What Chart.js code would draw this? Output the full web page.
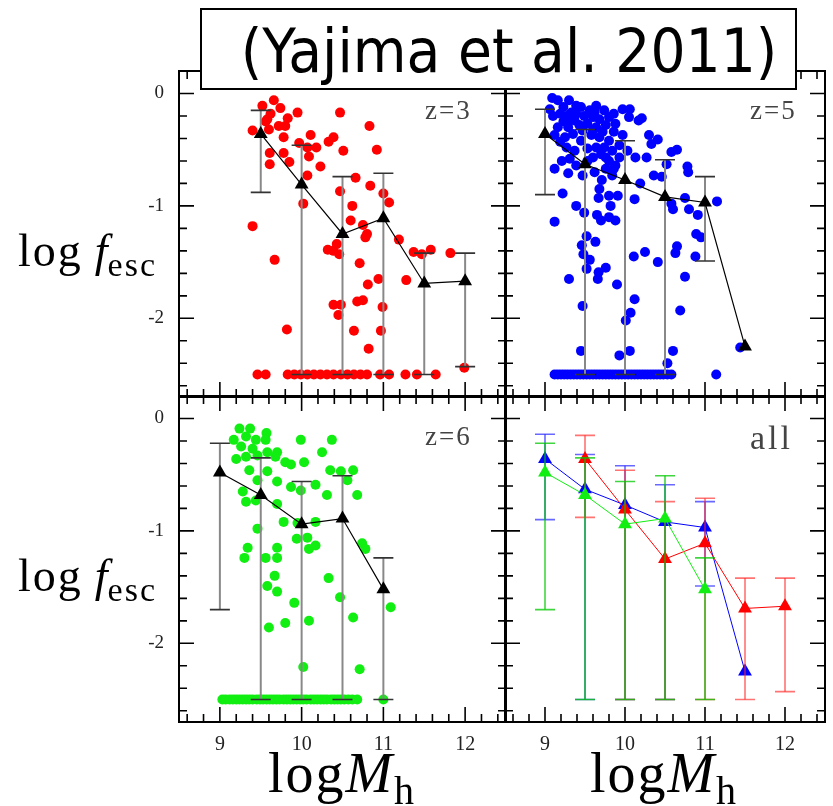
<!DOCTYPE html>
<html>
<head>
<meta charset="utf-8">
<script src="https://cdn.jsdelivr.net/npm/chart.js@4.4.1/dist/chart.umd.min.js"></script>
<style>
  body { margin: 0; background: #fff; }
  #wrap { position: relative; width: 833px; height: 806px; overflow: hidden; background: #fff; }
  #wrap canvas { position: absolute; left: 0; top: 0; }
  .txt { position: absolute; white-space: nowrap; line-height: 1; font-family: "Liberation Serif", serif; color: #000; }
  .plab { color: #444; font-size: 27px; letter-spacing: 2px; }
  .ylab { font-size: 46px; letter-spacing: 2px; }
  .ylab i { margin-left: 12px; letter-spacing: 0; }
  .ylab sub { font-size: 34px; vertical-align: -10px; }
  .xlab { font-size: 56px; letter-spacing: 2px; transform: translateX(-50%); }
  .xlab sub { font-size: 40px; vertical-align: -12px; }
  #title { position: absolute; left: 200px; top: 8px; width: 593px; height: 78px; border: 2px solid #000; background: #fff; z-index: 5; }
  #title span { position: absolute; left: calc(50% + 10px); top: 6px; transform: translateX(-50%) scaleX(0.92);
                font-family: "DejaVu Sans", sans-serif; font-size: 60px; line-height: 70px; white-space: nowrap; }
</style>
</head>
<body>
<div id="wrap">
  <canvas id="p3" width="833" height="806"></canvas>
  <canvas id="p5" width="833" height="806"></canvas>
  <canvas id="p6" width="833" height="806"></canvas>
  <canvas id="pall" width="833" height="806"></canvas>
  <div id="title"><span>(Yajima et al. 2011)</span></div>
  <div class="txt plab" style="left:425px;top:97px;">z=3</div>
  <div class="txt plab" style="left:750px;top:97px;">z=5</div>
  <div class="txt plab" style="left:425px;top:423px;">z=6</div>
  <div class="txt plab" style="left:750px;top:421px;font-size:34px;letter-spacing:3px;">all</div>
  <div class="txt ylab" style="left:18px;top:228px;">log<i>f</i><sub>esc</sub></div>
  <div class="txt ylab" style="left:18px;top:553px;">log<i>f</i><sub>esc</sub></div>
  <div class="txt xlab" style="left:342px;top:745px;">log<i>M</i><sub>h</sub></div>
  <div class="txt xlab" style="left:664px;top:745px;">log<i>M</i><sub>h</sub></div>
</div>
<script>
// tick labels
const xTicks = [9, 10, 11, 12];
const yTicks = [0, -1, -2];
const floorY = -2.5;

// z=3 (red)
const z3X = [9.52, 9.66, 9.74, 9.62, 9.58, 9.56, 9.60, 9.40, 9.72, 9.80, 9.83, 9.95, 9.78, 10.11, 9.97, 10.07, 10.18,
  9.61, 9.78, 10.09, 9.61, 9.85, 10.23, 10.07, 10.47, 10.39, 10.33, 10.51, 10.83, 10.92, 10.66, 10.84, 10.02, 10.47,
  10.62, 11.00, 11.07, 9.40, 10.60, 10.75, 10.80, 10.78, 11.19, 10.32, 10.39, 10.43, 10.46, 11.37, 11.47, 11.58, 11.82,
  9.67, 10.71, 10.94, 10.81, 11.28, 10.39, 10.48, 10.45, 10.68, 10.75, 10.99, 9.82, 10.64, 10.97, 10.82, 11.99];
const z3Y = [-0.11, -0.06, -0.13, -0.18, -0.23, -0.25, -0.32, -0.33, -0.29, -0.29, -0.22, -0.17, -0.39, -0.37, -0.44, -0.48, -0.48,
  -0.53, -0.53, -0.56, -0.63, -0.61, -0.65, -0.73, -0.17, -0.39, -0.43, -0.51, -0.29, -0.50, -0.75, -0.82, -0.98, -0.87,
  -1.00, -0.89, -0.97, -1.18, -1.13, -1.17, -1.25, -1.28, -1.30, -1.39, -1.40, -1.34, -1.43, -1.41, -1.43, -1.39, -1.42,
  -1.48, -1.51, -1.65, -1.70, -1.66, -1.88, -1.88, -1.97, -1.85, -1.84, -1.90, -2.10, -2.11, -2.11, -2.27, -2.44];
const z3FloorX = [9.46, 9.56, 9.83, 9.91, 9.99, 10.07, 10.15, 10.23, 10.31, 10.39, 10.48, 10.56, 10.64, 10.72, 10.80,
  10.96, 11.07, 11.27, 11.41, 11.64];
const z3MedX = [9.5, 10, 10.5, 11, 11.5, 12];
const z3MedY = [-0.36, -0.81, -1.25, -1.11, -1.69, -1.67];
const z3Hi = [-0.15, -0.46, -0.74, -0.71, -1.42, -1.42];
const z3Lo = [-0.88, -2.5, -2.5, -2.5, -2.5, -2.43];

// z=5 (blue)
const z5X = [9.09, 9.16, 9.30, 9.45, 9.56, 9.74, 9.86, 9.97, 10.06, 10.05, 10.17, 10.21, 9.10, 9.19, 9.27, 9.33, 9.23, 9.37,
  9.49, 9.60, 9.68, 9.80, 9.88, 9.16, 9.29, 9.43, 9.53, 9.64, 9.76, 9.86, 9.97, 9.12, 9.25, 9.35, 9.45, 9.58, 9.68, 9.80,
  9.93, 10.03, 10.30, 10.41, 10.33, 10.58, 10.65, 9.21, 9.31, 9.39, 9.60, 9.70, 9.80, 9.88, 10.13, 10.27, 9.12, 9.29,
  9.47, 9.62, 9.76, 9.86, 9.84, 9.71, 9.68, 9.80, 9.91, 10.12, 10.19, 10.36, 10.46, 10.78, 10.79, 10.52,
  10.58, 10.60, 10.80, 10.91, 10.75, 11.15, 10.89, 10.95, 10.65, 10.63, 10.25, 10.11, 10.41, 10.88, 10.75,
  9.22, 9.39, 9.49, 9.12, 9.67, 9.82, 9.65, 9.70, 9.80, 9.88, 9.52, 9.46, 9.63, 9.48, 9.56, 9.52, 9.76, 9.67, 9.66,
  9.30, 9.90, 9.47, 10.12, 10.07, 10.01, 10.69, 9.45, 9.93, 10.06, 10.60, 10.53, 11.44,
  9.06, 9.23, 9.39, 9.64, 9.62, 9.39, 9.31, 9.47, 9.60, 9.72, 9.53, 9.64, 9.74, 9.84, 9.27, 9.37, 9.93, 9.19, 9.76, 9.53];
const z5Y = [-0.04, -0.06, -0.06, -0.12, -0.15, -0.15, -0.18, -0.14, -0.14, -0.21, -0.24, -0.22, -0.20, -0.18, -0.20, -0.17, -0.25, -0.24,
  -0.20, -0.21, -0.23, -0.21, -0.27, -0.30, -0.30, -0.28, -0.27, -0.30, -0.28, -0.34, -0.37, -0.37, -0.39, -0.36, -0.42, -0.37, -0.39, -0.42,
  -0.46, -0.51, -0.37, -0.41, -0.45, -0.52, -0.50, -0.60, -0.58, -0.64, -0.57, -0.54, -0.60, -0.64, -0.57, -0.57, -0.67, -0.71,
  -0.73, -0.70, -0.67, -0.67, -0.73, -0.77, -0.85, -0.91, -0.91, -0.94, -0.80, -0.73, -0.74, -0.65, -0.70, -0.63,
  -0.98, -1.03, -1.03, -1.08, -0.93, -0.96, -1.25, -1.28, -1.36, -1.42, -1.41, -1.45, -1.50, -1.45, -1.63,
  -0.89, -1.00, -1.06, -1.14, -0.93, -1.00, -1.08, -1.13, -1.10, -1.13, -1.27, -1.35, -1.32, -1.43, -1.48, -1.56, -1.55, -1.59, -1.65,
  -1.65, -1.70, -1.89, -1.83, -1.95, -2.02, -1.93, -2.29, -2.33, -2.29, -2.29, -2.40, -2.26,
  -0.14, -0.12, -0.11, -0.11, -0.17, -0.18, -0.24, -0.33, -0.33, -0.34, -0.49, -0.48, -0.48, -0.51, -0.48, -0.51, -0.57, -0.43, -0.57, -0.60];
const z5FloorX = [9.12, 9.16, 9.20, 9.24, 9.28, 9.32, 9.36, 9.40, 9.44, 9.48, 9.52, 9.56, 9.60, 9.64, 9.68, 9.72, 9.76,
  9.80, 9.84, 9.88, 9.92, 9.96, 10.00, 10.04, 10.08, 10.12, 10.16, 10.20, 10.24, 10.28, 10.32, 10.36, 10.40, 10.44,
  10.48, 10.53, 10.58, 11.14];
const z5MedX = [9, 9.5, 10, 10.5, 11, 11.5];
const z5MedY = [-0.36, -0.63, -0.77, -0.92, -0.97, -2.25];
const z5Hi = [-0.14, -0.32, -0.42, -0.59, -0.74, null];
const z5Lo = [-0.90, -2.5, -2.5, -2.5, -1.49, null];

// z=6 (green)
const z6X = [9.24, 9.37, 9.32, 9.17, 9.44, 9.57, 9.56, 9.26, 9.40, 9.20, 9.32, 9.46, 9.58, 9.70, 9.80, 9.87, 9.68, 9.99,
  10.37, 10.25, 10.03, 10.35, 10.48, 10.63, 10.56, 9.36, 9.46, 9.70, 9.87, 9.99, 10.17, 10.31, 10.68, 9.28, 9.32, 9.44,
  9.70, 9.58, 9.78, 9.95, 10.17, 9.46, 9.94, 10.07, 10.09, 10.17, 10.74, 10.78, 9.34, 9.30, 9.56, 9.70, 9.70, 9.67,
  9.58, 9.70, 10.33, 10.47, 9.91, 11.09, 9.60, 9.80, 10.09, 10.63, 10.02, 10.71];
const z6Y = [-0.09, -0.09, -0.16, -0.19, -0.19, -0.13, -0.19, -0.25, -0.27, -0.36, -0.34, -0.33, -0.30, -0.30, -0.39, -0.41, -0.34, -0.19,
  -0.19, -0.30, -0.39, -0.46, -0.47, -0.46, -0.55, -0.46, -0.55, -0.56, -0.61, -0.64, -0.59, -0.68, -0.68, -0.65, -0.74, -0.73,
  -0.76, -0.47, -0.92, -0.93, -0.92, -0.98, -1.07, -1.06, -1.16, -1.13, -1.11, -1.16, -1.15, -1.24, -1.24, -1.15, -1.24, -1.40,
  -1.49, -1.54, -1.42, -1.59, -1.64, -1.68, -1.86, -1.82, -1.80, -1.77, -2.21, -2.23];
const z6FloorX = [9.03, 9.07, 9.12, 9.16, 9.20, 9.24, 9.28, 9.32, 9.36, 9.40, 9.45, 9.49, 9.53, 9.57, 9.61, 9.65, 9.69,
  9.73, 9.78, 9.82, 9.86, 9.90, 9.94, 9.98, 10.02, 10.06, 10.11, 10.15, 10.19, 10.23, 10.27, 10.31, 10.36, 10.40,
  10.44, 10.48, 10.52, 10.57, 10.62, 10.68, 11.00];
const z6MedX = [9, 9.5, 10, 10.5, 11];
const z6MedY = [-0.48, -0.68, -0.94, -0.89, -1.52];
const z6Hi = [-0.22, -0.35, -0.56, -0.51, -1.24];
const z6Lo = [-1.70, -2.5, -2.5, -2.5, -2.5];

const RED = '#ff0000', BLUE = '#0000ff', GREEN = '#11ee11';

function pts(xs, ys) { return xs.map((v, i) => ({ x: v, y: ys[i] })); }
function floorPts(xs) { return xs.map(v => ({ x: v, y: floorY })); }

// error bars drawn just before the dataset that owns them
const errorBars = {
  id: 'errorBars',
  beforeDatasetDraw(chart, args) {
    const ds = chart.data.datasets[args.index];
    if (!ds.errHi) return;
    const { ctx, scales: { x, y } } = chart;
    ctx.save();
    ds.data.forEach((p, i) => {
      if (ds.errHi[i] == null) return;
      const px = x.getPixelForValue(p.x);
      const t = y.getPixelForValue(ds.errHi[i]);
      const b = y.getPixelForValue(ds.errLo[i]);
      ctx.strokeStyle = ds.errColor;
      ctx.lineWidth = ds.errWidth;
      ctx.beginPath(); ctx.moveTo(px, t); ctx.lineTo(px, b); ctx.stroke();
      ctx.strokeStyle = ds.capColor;
      ctx.lineWidth = 1.6;
      ctx.beginPath();
      ctx.moveTo(px - 10, t); ctx.lineTo(px + 10, t);
      ctx.moveTo(px - 10, b); ctx.lineTo(px + 10, b);
      ctx.stroke();
    });
    ctx.restore();
  }
};

// frame with inward ticks on all four sides
const frameTicks = {
  id: 'frameTicks',
  afterDraw(chart) {
    const { ctx, chartArea: a, scales: { x, y } } = chart;
    ctx.save();
    ctx.strokeStyle = '#000';
    ctx.lineWidth = 1.6;
    ctx.beginPath();
    for (let k = 43; k <= 62; k++) {
      const px = x.getPixelForValue(k / 5);
      const len = k % 5 === 0 ? 15 : 8;
      ctx.moveTo(px, a.bottom); ctx.lineTo(px, a.bottom - len);
      ctx.moveTo(px, a.top); ctx.lineTo(px, a.top + len);
    }
    for (let k = -13; k <= 0; k++) {
      const py = y.getPixelForValue(k / 5);
      const len = k % 5 === 0 ? 15 : 8;
      ctx.moveTo(a.left, py); ctx.lineTo(a.left + len, py);
      ctx.moveTo(a.right, py); ctx.lineTo(a.right - len, py);
    }
    ctx.stroke();
    ctx.lineWidth = 2;
    ctx.strokeRect(a.left, a.top, a.right - a.left, a.bottom - a.top);
    ctx.restore();
  }
};

function scatterSet(xs, ys, floorXs, color) {
  return {
    data: pts(xs, ys).concat(floorPts(floorXs)),
    showLine: false,
    pointRadius: 5,
    pointBorderWidth: 0,
    pointBackgroundColor: color
  };
}

function medianSet(xs, ys, hi, lo, opt) {
  return Object.assign({
    data: pts(xs, ys),
    showLine: true,
    borderColor: '#000',
    borderWidth: 1.2,
    pointStyle: 'triangle',
    pointRadius: 8,
    pointBorderWidth: 0,
    pointBackgroundColor: '#000',
    errHi: hi,
    errLo: lo,
    errColor: '#888',
    capColor: '#333',
    errWidth: 2
  }, opt || {});
}

const W = 833, H = 806;

function panel(id, box, showX, showY, datasets) {
  const xScale = {
    type: 'linear', min: 8.5, max: 12.5, display: showX,
    grid: { display: false, drawTicks: false }, border: { display: false },
    afterBuildTicks: s => { s.ticks = xTicks.map(v => ({ value: v })); },
    ticks: { autoSkip: false, maxRotation: 0, padding: 11, color: '#222',
             font: { family: 'Liberation Serif', size: 20 }, callback: v => String(v) }
  };
  const yScale = {
    type: 'linear', min: -2.7, max: 0.2, display: showY,
    grid: { display: false, drawTicks: false }, border: { display: false },
    afterBuildTicks: s => { s.ticks = yTicks.map(v => ({ value: v })); },
    ticks: { padding: 15, color: '#222',
             font: { family: 'Liberation Serif', size: 19 }, callback: v => String(v) }
  };
  // only the visible axes get a fixed size, hidden ones take no room
  if (showX) xScale.afterFit = s => { s.height = H - box.bottom; };
  if (showY) yScale.afterFit = s => { s.width = box.left; };

  new Chart(document.getElementById(id), {
    type: 'scatter',
    data: { datasets: datasets },
    options: {
      responsive: false,
      animation: false,
      events: [],
      layout: {
        padding: {
          left: showY ? 0 : box.left,
          right: W - box.right,
          top: box.top,
          bottom: showX ? 0 : H - box.bottom
        }
      },
      plugins: { legend: { display: false }, tooltip: { enabled: false } },
      scales: { x: xScale, y: yScale }
    },
    plugins: [errorBars, frameTicks]
  });
}

const boxTL = { left: 179, right: 506, top: 71, bottom: 397 };
const boxTR = { left: 505, right: 829, top: 71, bottom: 397 };
const boxBL = { left: 179, right: 506, top: 396, bottom: 722 };
const boxBR = { left: 505, right: 829, top: 396, bottom: 722 };

panel('p3', boxTL, false, true, [
  medianSet(z3MedX, z3MedY, z3Hi, z3Lo),
  scatterSet(z3X, z3Y, z3FloorX, RED)
]);

panel('p5', boxTR, false, false, [
  medianSet(z5MedX, z5MedY, z5Hi, z5Lo),
  scatterSet(z5X, z5Y, z5FloorX, BLUE)
]);

panel('p6', boxBL, true, true, [
  medianSet(z6MedX, z6MedY, z6Hi, z6Lo),
  scatterSet(z6X, z6Y, z6FloorX, GREEN)
]);

function allSet(xs, ys, hi, lo, color, errColor) {
  return medianSet(xs, ys, hi, lo, {
    borderColor: color, borderWidth: 1, pointBackgroundColor: color,
    errColor: errColor, capColor: errColor, errWidth: 1.6
  });
}

panel('pall', boxBR, true, false, [
  allSet(z6MedX, z6MedY, z6Hi, z6Lo, GREEN, 'rgba(0,200,0,0.75)'),
  allSet(z3MedX, z3MedY, z3Hi, z3Lo, RED, 'rgba(255,40,40,0.65)'),
  allSet(z5MedX, z5MedY, z5Hi, z5Lo, BLUE, 'rgba(40,40,255,0.7)')
]);
</script>
</body>
</html>
